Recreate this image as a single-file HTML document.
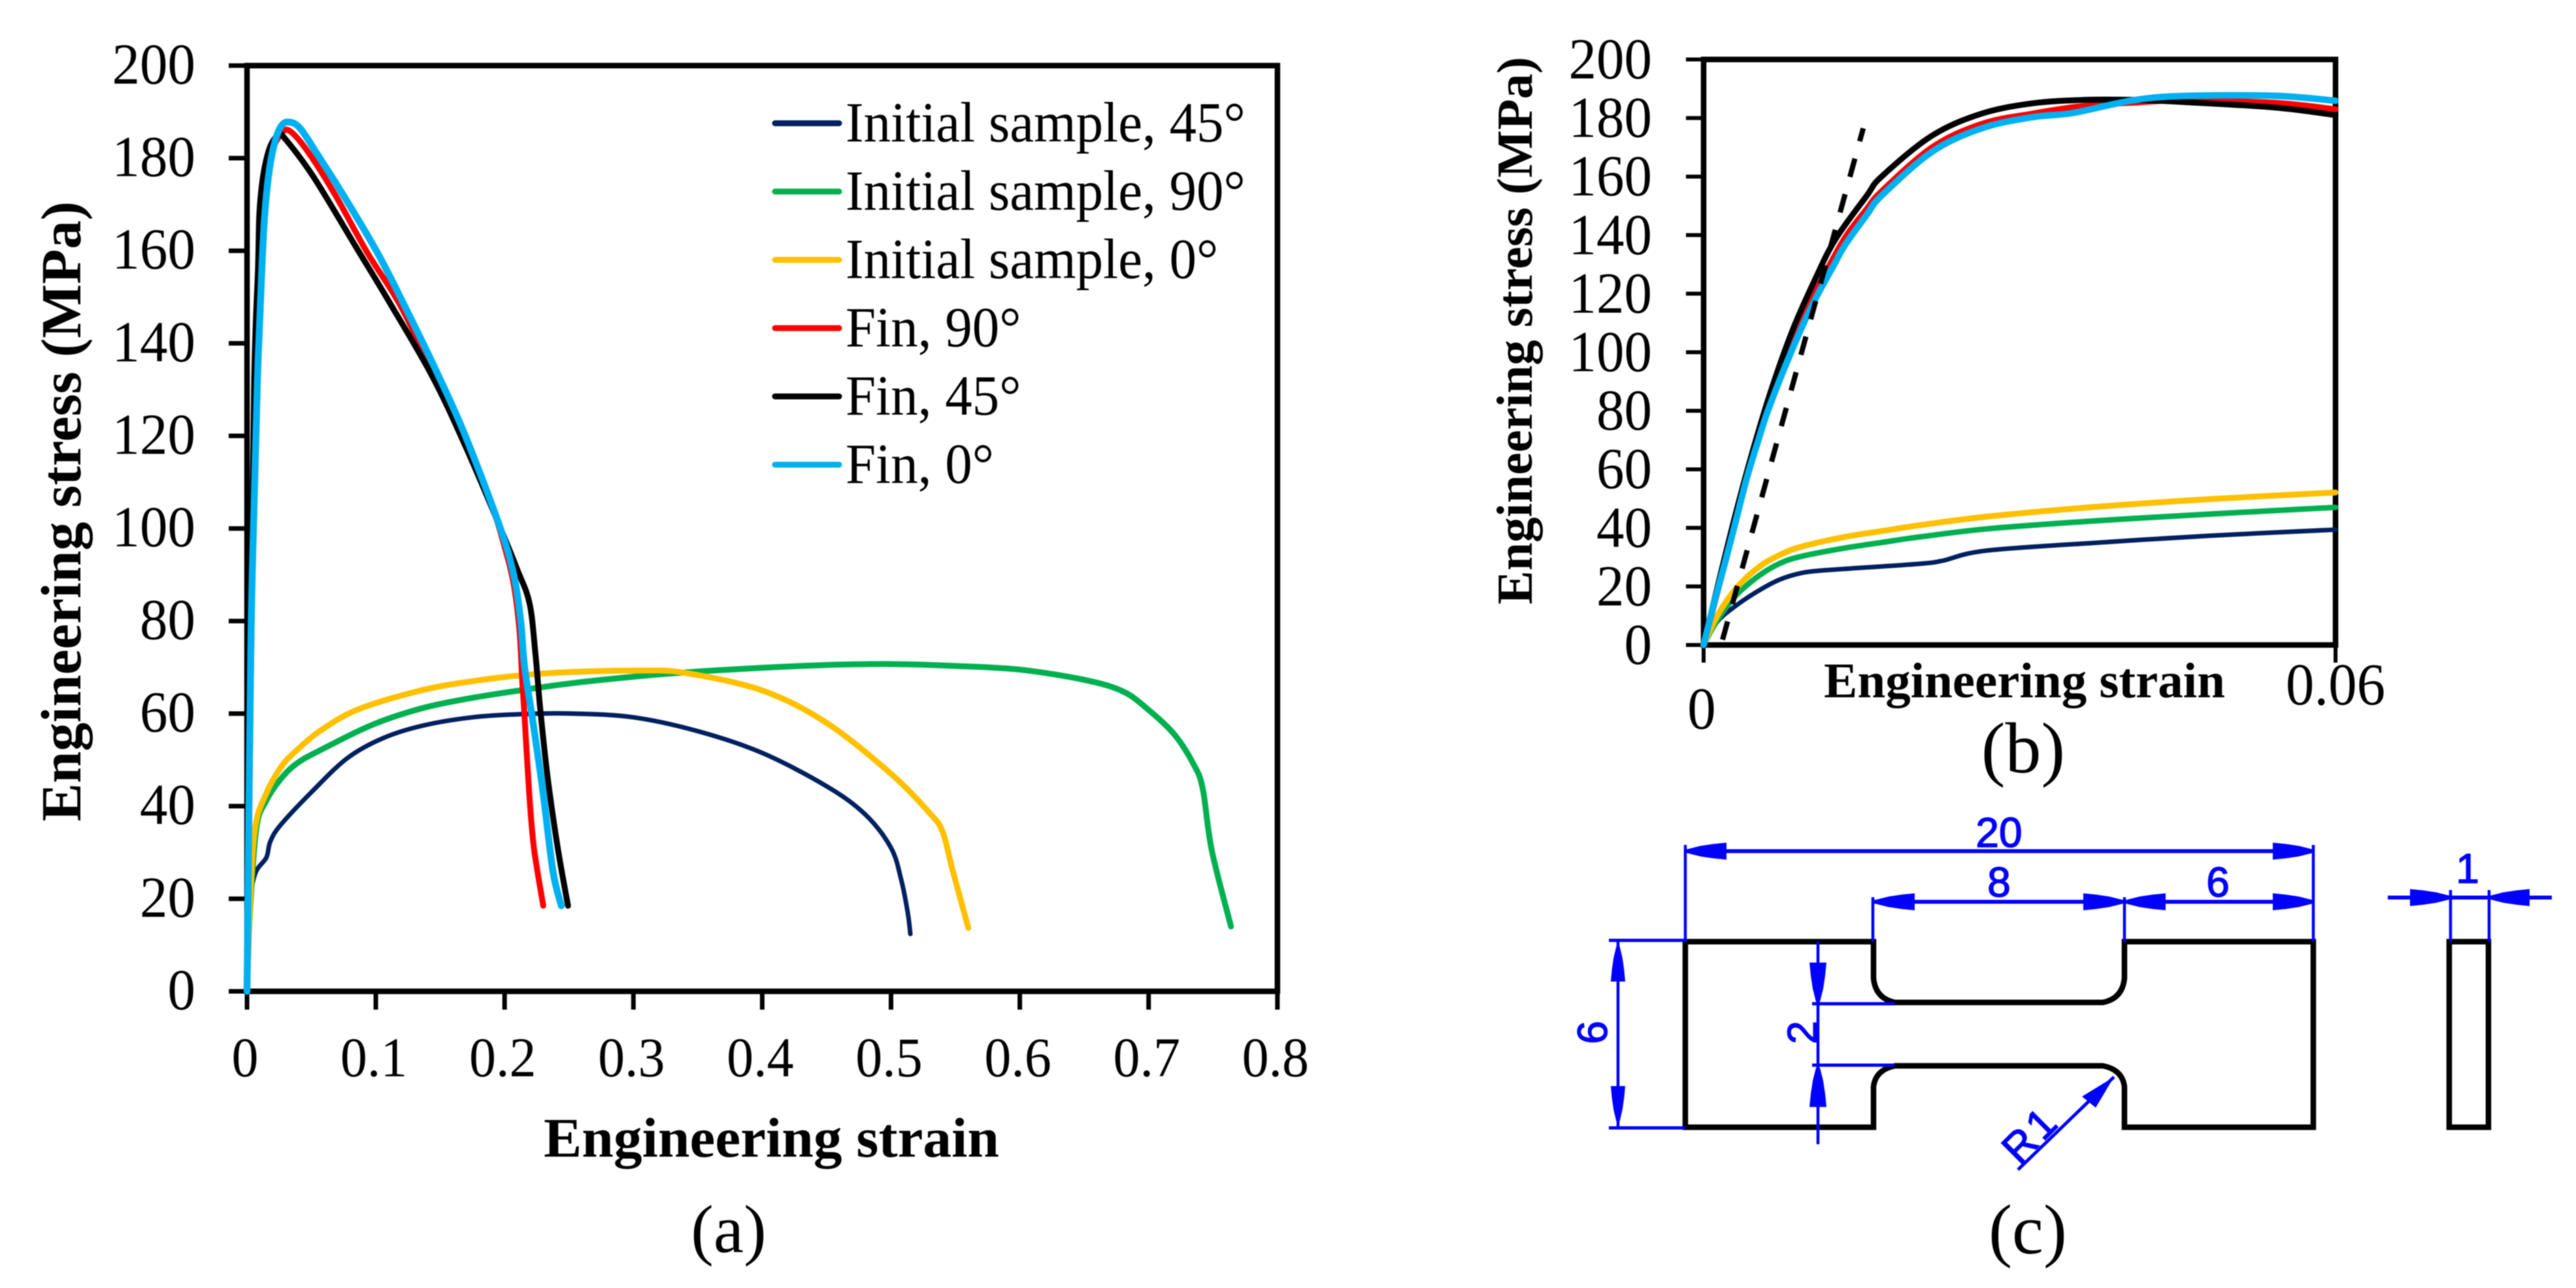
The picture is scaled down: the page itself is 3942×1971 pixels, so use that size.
<!DOCTYPE html>
<html lang="en">
<head>
<meta charset="utf-8">
<title>Engineering stress-strain curves</title>
<style>
html,body{margin:0;padding:0;background:#fff;}
body{width:3942px;height:1971px;overflow:hidden;}
svg{display:block;filter:blur(0.8px);}
text{font-family:"Liberation Serif",serif;fill:#000;}
.cad{font-family:"Liberation Sans",sans-serif;fill:#0000ff;stroke:#0000ff;stroke-width:1.5px;font-size:64px;}
</style>
</head>
<body>
<svg id="figure" xmlns="http://www.w3.org/2000/svg" width="3942" height="1971" viewBox="0 0 3942 1971">
  <defs>
    <polygon id="arrowhead" points="0,-3 20,-8 40,-11 60,-13 60,13 40,11 20,8 0,3"/>
  </defs>
  <rect x="0" y="0" width="3942" height="1971" fill="#ffffff"/>
  <g id="chartA"></g>
  <g id="chartB"></g>

  <text x="1115" y="1916" font-size="104" text-anchor="middle">(a)</text>
  <text x="3096" y="1182" font-size="110" text-anchor="middle">(b)</text>
  <text x="3103" y="1918" font-size="108" text-anchor="middle">(c)</text>

  <g>
    <path d="M2579 1441 H2867 V1497 Q2870 1528 2900 1534 H3218 Q3248 1528 3251 1497 V1441 H3540 V1725 H3251 V1663 Q3248 1637 3218 1631 H2900 Q2870 1637 2867 1663 V1725 H2579 Z" fill="none" stroke="#000" stroke-width="8.5"/>
    <rect x="3748" y="1441" width="60" height="284" fill="none" stroke="#000" stroke-width="8.5"/>

    <g stroke="#0000ff" fill="none">
      <path stroke-width="4.5" d="M2579 1293 V1441 M3540 1293 V1441 M2866 1373 V1441 M3251 1373 V1441 M3750 1362 V1441 M3809 1362 V1441 M2476 1439 V1726 M2782 1441 V1751"/>
      <path stroke-width="5" d="M2462 1439 H2579 M2462 1726 H2579 M2773 1536 H2899 M2773 1630 H2899"/>
      <path stroke-width="6" d="M2580 1302.5 H3540"/>
      <path stroke-width="6" d="M2866 1380 H3251"/>
      <path stroke-width="6" d="M3251 1380 H3540"/>
      <path stroke-width="6" d="M3654 1373.5 H3905"/>
      <path stroke-width="5" d="M3088 1790 L3235 1648"/>
    </g>

    <g fill="#0000ff">
      <use href="#arrowhead" transform="translate(2582 1302.5)"/>
      <use href="#arrowhead" transform="translate(3538 1302.5) rotate(180)"/>
      <use href="#arrowhead" transform="translate(2870 1380)"/>
      <use href="#arrowhead" transform="translate(3248 1380) rotate(180)"/>
      <use href="#arrowhead" transform="translate(3254 1380)"/>
      <use href="#arrowhead" transform="translate(3538 1380) rotate(180)"/>
      <use href="#arrowhead" transform="translate(3748 1373.5) rotate(180)"/>
      <use href="#arrowhead" transform="translate(3811 1373.5)"/>
      <use href="#arrowhead" transform="translate(2476 1448) rotate(90) scale(0.9 0.85)"/>
      <use href="#arrowhead" transform="translate(2476 1716) rotate(-90) scale(0.9 0.85)"/>
      <use href="#arrowhead" transform="translate(2782 1533) rotate(-90)"/>
      <use href="#arrowhead" transform="translate(2782 1634) rotate(90)"/>
      <polygon points="3235,1648 3186,1678 3207,1695"/>
    </g>

    <g>
      <text class="cad" x="3059" y="1296" text-anchor="middle">20</text>
      <text class="cad" x="3059" y="1372" text-anchor="middle">8</text>
      <text class="cad" x="3394" y="1372" text-anchor="middle">6</text>
      <text class="cad" x="3776" y="1351" text-anchor="middle">1</text>
      <text class="cad" transform="translate(2459 1580) rotate(-90)" text-anchor="middle">6</text>
      <text class="cad" transform="translate(2780 1580) rotate(-90)" text-anchor="middle">2</text>
      <text class="cad" transform="translate(3090 1784) rotate(-45)" letter-spacing="5">R1</text>
    </g>
  </g>
</svg>

<script>
// ---- Panel (a) axis values ----
var aStrainTicks = [0, 0.1, 0.2, 0.3, 0.4, 0.5, 0.6, 0.7, 0.8];
var aStrainLabels = ['0', '0.1', '0.2', '0.3', '0.4', '0.5', '0.6', '0.7', '0.8'];
var stressTicks = [0, 20, 40, 60, 80, 100, 120, 140, 160, 180, 200];
var stressLabels = ['0', '20', '40', '60', '80', '100', '120', '140', '160', '180', '200'];

// ---- Panel (a) series ----
var aInit45Strain = [0, 0.0025, 0.0063, 0.015, 0.018, 0.026, 0.051, 0.078, 0.1056, 0.1365, 0.175, 0.214, 0.253, 0.3, 0.35, 0.4, 0.45, 0.48, 0.5, 0.508, 0.513, 0.515];
var aInit45Stress = [0, 18.5, 25.4, 28.9, 32.3, 35.9, 43.3, 50.4, 54.7, 57.4, 59.2, 59.9, 60, 59.2, 56.2, 51.5, 44.3, 38.2, 31, 24, 17, 12.4];
var aInit90Strain = [0, 0.0025, 0.0073, 0.0142, 0.026, 0.039, 0.059, 0.0975, 0.1365, 0.175, 0.214, 0.253, 0.305, 0.35, 0.4, 0.45, 0.5, 0.55, 0.6, 0.65, 0.68, 0.7, 0.72, 0.735, 0.742, 0.749, 0.764];
var aInit90Stress = [0, 18, 35.3, 40.8, 45.8, 49.3, 52.4, 57.6, 61.2, 63.4, 65.1, 66.6, 68.1, 69.1, 69.9, 70.5, 70.7, 70.3, 69.5, 67.3, 64.8, 60.8, 55.5, 49, 43.8, 30.5, 14];
var aInit0Strain = [0, 0.0025, 0.0063, 0.0142, 0.026, 0.039, 0.059, 0.088, 0.1365, 0.175, 0.214, 0.253, 0.305, 0.34, 0.4, 0.45, 0.5, 0.53, 0.54, 0.548, 0.56];
var aInit0Stress = [0, 20, 35.3, 42.3, 48.3, 52.2, 56.7, 61.1, 65.1, 67, 68.3, 69, 69.3, 68.8, 65, 58, 47, 38.5, 34.5, 26, 13.7];
var aFin90Strain = [0, 0.0033, 0.0065, 0.0095, 0.0115, 0.015, 0.02, 0.026, 0.0325, 0.0462, 0.068, 0.0934, 0.1188, 0.146, 0.17, 0.19, 0.2, 0.207, 0.2115, 0.2137, 0.2152, 0.219, 0.2228, 0.23];
var aFin90Stress = [0, 73, 132, 156, 168, 177, 182, 185, 186, 181.8, 172.3, 159.6, 148.3, 132.8, 118, 105, 96, 88, 78, 67, 60.6, 43.3, 30.9, 18.5];
var aFin45Strain = [0, 0.0029, 0.0056, 0.0085, 0.0096, 0.0122, 0.0157, 0.0193, 0.0243, 0.0284, 0.0513, 0.0851, 0.1105, 0.144, 0.17, 0.196, 0.21, 0.2194, 0.2239, 0.2278, 0.2336, 0.2413, 0.2492];
var aFin45Stress = [0, 73, 132.3, 156, 168, 175.6, 180.5, 183.3, 185, 184.6, 176.1, 160.6, 148.9, 132.8, 117.5, 100.6, 91, 83.8, 73, 60.6, 45.8, 30.9, 18.5];
var aFin0Strain = [0, 0.0029, 0.0055, 0.0081, 0.0115, 0.0138, 0.0173, 0.0217, 0.0267, 0.0325, 0.0411, 0.0547, 0.075, 0.102, 0.1257, 0.149, 0.1695, 0.196, 0.207, 0.2125, 0.2155, 0.222, 0.2297, 0.2375, 0.244];
var aFin0Stress = [0, 73, 105, 132.3, 156, 168, 177.4, 183.6, 187, 187.8, 186.5, 180.8, 171.9, 159.2, 146.2, 132.8, 120, 100.6, 90, 80, 70, 58.2, 43.3, 26, 18.5];

// ---- Panel (b) axis values ----
var bStrainTicks = [0, 0.06];
var bStrainLabels = ['0', '0.06'];

// ---- Panel (b) series ----
var bInit45Strain = [0, 0.0013, 0.0031, 0.0052, 0.0072, 0.0093, 0.0114, 0.0155, 0.0207, 0.0227, 0.0268, 0.0376, 0.048, 0.06];
var bInit45Stress = [0, 8, 13.5, 18.5, 22.3, 24.6, 25.5, 26.5, 27.8, 28.8, 32.2, 35, 37.3, 39.4];
var bInit90Strain = [0, 0.0013, 0.0031, 0.0052, 0.0072, 0.0093, 0.0134, 0.0169, 0.0207, 0.0273, 0.0376, 0.048, 0.06];
var bInit90Stress = [0, 8.5, 17, 23.5, 27.8, 30.3, 33.1, 35, 37, 39.8, 42.5, 44.7, 47];
var bInit0Strain = [0, 0.0013, 0.0031, 0.0052, 0.0072, 0.0093, 0.0134, 0.0169, 0.0207, 0.0273, 0.0376, 0.048, 0.06];
var bInit0Stress = [0, 10, 19.4, 26.5, 30.7, 33.6, 36.9, 38.9, 41, 44, 47.3, 49.8, 52.1];
var bFin90Strain = [0, 0.0021, 0.0041, 0.0062, 0.0083, 0.0103, 0.0114, 0.0134, 0.0155, 0.0169, 0.0217, 0.0264, 0.0312, 0.0362, 0.0407, 0.0454, 0.0542, 0.06];
var bFin90Stress = [0, 29, 59, 82, 101, 118, 126, 139, 149, 155, 170, 178, 181.5, 184.2, 185.2, 186, 185.2, 183];
var bFin45Strain = [0, 0.0016, 0.0032, 0.0048, 0.0065, 0.0085, 0.0106, 0.0125, 0.0155, 0.0169, 0.0217, 0.0264, 0.0312, 0.0362, 0.0407, 0.0454, 0.0542, 0.06];
var bFin45Stress = [0, 24, 47, 68, 88, 108, 125, 138.5, 153.5, 160, 174, 181.5, 185, 186.2, 186.2, 185.5, 183.6, 181];
var bFin0Strain = [0, 0.001, 0.0021, 0.0031, 0.0041, 0.0052, 0.0062, 0.0083, 0.0103, 0.0124, 0.0134, 0.0155, 0.0169, 0.0217, 0.0264, 0.0312, 0.035, 0.0407, 0.0454, 0.0542, 0.06];
var bFin0Stress = [0, 14.4, 29, 43, 57, 70, 81, 100, 116, 130, 136.5, 147, 153.5, 168.5, 176.5, 180.3, 181.7, 186, 187.5, 187.6, 185.9];
var bModulusStrain = [0.0018, 0.01516];
var bModulusStress = [1.8, 176.5];

// ---- Legend text ----
var seriesNames = ['Initial sample, 45°', 'Initial sample, 90°', 'Initial sample, 0°', 'Fin, 90°', 'Fin, 45°', 'Fin, 0°'];

var SVGNS = 'http://www.w3.org/2000/svg';
var NAVY = '#002060', GREEN = '#00b050', AMBER = '#ffc000', RED = '#ff0000', BLACK = '#000000', CYAN = '#00b0f0';
var seriesColors = [NAVY, GREEN, AMBER, RED, BLACK, CYAN];
var seriesKeys = ['initial-45', 'initial-90', 'initial-0', 'fin-90', 'fin-45', 'fin-0'];

function ax(v) { return 378 + v * 1971; }
function ay(v) { return 1517 - v * 7.083; }
function bx(v) { return 2607 + v * 16117; }
function by(v) { return 987 - v * 4.48; }

function make(parent, tag, attrs, content) {
  var el = document.createElementNS(SVGNS, tag);
  for (var k in attrs) { el.setAttribute(k, attrs[k]); }
  if (content !== undefined) { el.textContent = content; }
  parent.appendChild(el);
  return el;
}

function tallText(parent, x, y, size, anchor, content) {
  return make(parent, 'text', { transform: 'translate(' + x + ' ' + y + ') scale(1 1.05)', 'font-size': size, 'text-anchor': anchor }, content);
}

function curvePath(xs, ys, fx, fy) {
  var pts = xs.map(function (v, i) { return [fx(v), fy(ys[i])]; });
  var d = 'M' + pts[0][0].toFixed(1) + ' ' + pts[0][1].toFixed(1);
  for (var i = 0; i < pts.length - 1; i++) {
    var p0 = pts[Math.max(i - 1, 0)], p1 = pts[i], p2 = pts[i + 1], p3 = pts[Math.min(i + 2, pts.length - 1)];
    var c1x = p1[0] + (p2[0] - p0[0]) / 6, c1y = p1[1] + (p2[1] - p0[1]) / 6;
    var c2x = p2[0] - (p3[0] - p1[0]) / 6, c2y = p2[1] - (p3[1] - p1[1]) / 6;
    d += ' C' + c1x.toFixed(1) + ' ' + c1y.toFixed(1) + ' ' + c2x.toFixed(1) + ' ' + c2y.toFixed(1) + ' ' + p2[0].toFixed(1) + ' ' + p2[1].toFixed(1);
  }
  return d;
}

function drawAxes(group, fx, fy, xTicks, xMax, yMax, tickLen, tickWidth) {
  var frame = make(group, 'rect', { x: fx(0), y: fy(yMax), width: fx(xMax) - fx(0), height: fy(0) - fy(yMax), fill: 'none', stroke: '#000', 'stroke-width': 8.5 });
  
  
  stressTicks.forEach(function (t) {
    var tick = make(group, 'line', { x1: fx(0) - tickLen, x2: fx(0), y1: fy(t), y2: fy(t), stroke: '#000', 'stroke-width': tickWidth });
    
    
  });
  xTicks.forEach(function (t) {
    var tick = make(group, 'line', { x1: fx(t), x2: fx(t), y1: fy(0), y2: fy(0) + tickLen, stroke: '#000', 'stroke-width': tickWidth });
    
    
  });
}

function drawSeries(group, xs, ys, fx, fy, color, width, key) {
  var line = make(group, 'path', { d: curvePath(xs, ys, fx, fy), fill: 'none', stroke: color, 'stroke-width': width, 'stroke-linejoin': 'round', 'stroke-linecap': 'round' });
  
  
}

// ---------- Panel (a) ----------
var gA = document.getElementById('chartA');
drawAxes(gA, ax, ay, aStrainTicks, 0.8, 200, 28, 7);

stressLabels.forEach(function (label, i) {
  var t = tallText(gA, 299, ay(stressTicks[i]) + 27.5, 85, 'end', label);
  
  
});
aStrainLabels.forEach(function (label, i) {
  var t = tallText(gA, ax(aStrainTicks[i]) - 3, 1647, 82, 'middle', label);
  
  
});

var aXTitle = make(gA, 'text', { x: 832, y: 1770, 'font-size': 86, 'font-weight': 'bold', textLength: 697, lengthAdjust: 'spacingAndGlyphs' }, 'Engineering strain');


var aYTitle = make(gA, 'text', { transform: 'translate(123 1257) rotate(-90)', 'font-size': 87, 'font-weight': 'bold', textLength: 949, lengthAdjust: 'spacingAndGlyphs' }, 'Engineering stress (MPa)');



drawSeries(gA, aInit45Strain, aInit45Stress, ax, ay, NAVY, 7, seriesKeys[0]);
drawSeries(gA, aInit90Strain, aInit90Stress, ax, ay, GREEN, 9, seriesKeys[1]);
drawSeries(gA, aInit0Strain, aInit0Stress, ax, ay, AMBER, 9, seriesKeys[2]);
drawSeries(gA, aFin90Strain, aFin90Stress, ax, ay, RED, 9, seriesKeys[3]);
drawSeries(gA, aFin45Strain, aFin45Stress, ax, ay, BLACK, 9, seriesKeys[4]);
drawSeries(gA, aFin0Strain, aFin0Stress, ax, ay, CYAN, 10.5, seriesKeys[5]);

seriesNames.forEach(function (name, i) {
  var rowY = 188.6 + i * 104.5;
  var swatch = make(gA, 'line', { x1: 1186, x2: 1284, y1: rowY, y2: rowY, stroke: seriesColors[i], 'stroke-width': 9, 'stroke-linecap': 'round' });
  
  
  var label = tallText(gA, 1294, rowY + 28, 83, 'start', name);
  
  
});

// ---------- Panel (b) ----------
var gB = document.getElementById('chartB');
drawAxes(gB, bx, by, bStrainTicks, 0.06, 200, 27, 6);

stressLabels.forEach(function (label, i) {
  var t = tallText(gB, 2528, by(stressTicks[i]) + 29, 85, 'end', label);
  
  
});
bStrainLabels.forEach(function (label, i) {
  var isOrigin = bStrainTicks[i] === 0;
  var t = tallText(gB, bx(bStrainTicks[i]) + (isOrigin ? -3 : 0), isOrigin ? 1115 : 1078, 87, 'middle', label);
  
  
});

var bXTitle = make(gB, 'text', { x: 2791, y: 1067, 'font-size': 76, 'font-weight': 'bold', textLength: 614, lengthAdjust: 'spacingAndGlyphs' }, 'Engineering strain');


var bYTitle = make(gB, 'text', { transform: 'translate(2344 925) rotate(-90)', 'font-size': 77, 'font-weight': 'bold', textLength: 838, lengthAdjust: 'spacingAndGlyphs' }, 'Engineering stress (MPa)');



drawSeries(gB, bInit45Strain, bInit45Stress, bx, by, NAVY, 7, seriesKeys[0]);
drawSeries(gB, bInit90Strain, bInit90Stress, bx, by, GREEN, 8.5, seriesKeys[1]);
drawSeries(gB, bInit0Strain, bInit0Stress, bx, by, AMBER, 9, seriesKeys[2]);
drawSeries(gB, bFin90Strain, bFin90Stress, bx, by, RED, 9, seriesKeys[3]);
drawSeries(gB, bFin45Strain, bFin45Stress, bx, by, BLACK, 9, seriesKeys[4]);
drawSeries(gB, bFin0Strain, bFin0Stress, bx, by, CYAN, 10, seriesKeys[5]);

var dashLine = make(gB, 'path', { d: curvePath(bModulusStrain, bModulusStress, bx, by), fill: 'none', stroke: '#000', 'stroke-width': 8, 'stroke-dasharray': '29 27.5' });


</script>
</body>
</html>
